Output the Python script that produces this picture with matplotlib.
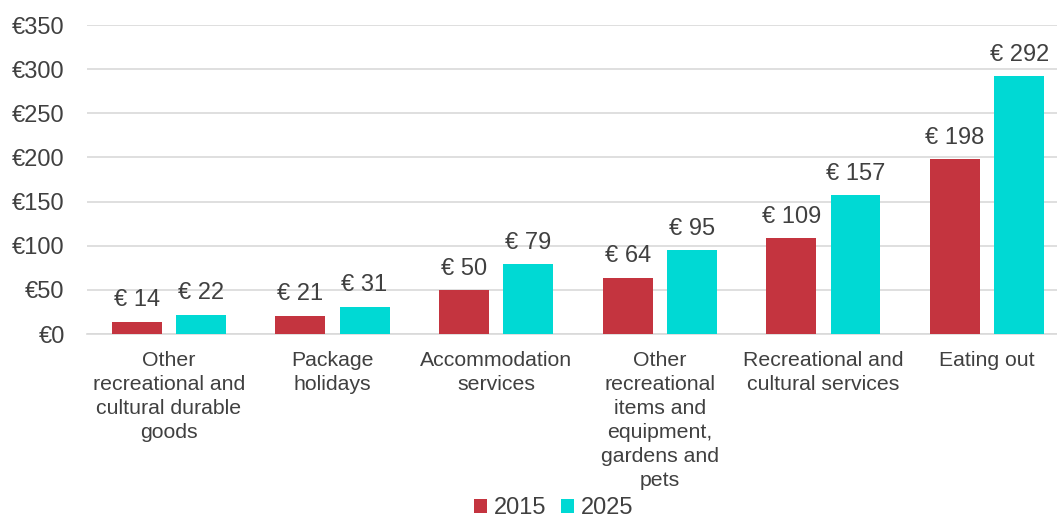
import matplotlib.pyplot as plt
import numpy as np

plt.rcParams['font.family'] = ['Liberation Sans', 'DejaVu Sans']

categories = ["Other\nrecreational and\ncultural durable\ngoods", "Package\nholidays",
              "Accommodation\nservices",
              "Other\nrecreational\nitems and\nequipment,\ngardens and\npets",
              "Recreational and\ncultural services", "Eating out"]
v2015 = [14, 21, 50, 64, 109, 198]
v2025 = [22, 31, 79, 95, 157, 292]

red = '#C4343F'
cyan = '#00D9D4'
txt = '#404040'

fig = plt.figure(figsize=(10.57, 5.22), dpi=100)
ax = fig.add_axes([0.0823, 0.360, 0.929, 0.592])

x = np.arange(len(categories))
w = 0.305
b1 = ax.bar(x - 0.196, v2015, w, color=red, label='2015', zorder=3)
b2 = ax.bar(x + 0.196, v2025, w, color=cyan, label='2025', zorder=3)

for bars, vals in [(b1, v2015), (b2, v2025)]:
    for b, v in zip(bars, vals):
        ax.annotate(f'€ {v}', (b.get_x() + b.get_width() / 2, v), xytext=(0, 11),
                    textcoords='offset points', ha='center', va='baseline',
                    fontsize=17, color=txt)

ax.set_ylim(0, 350)
ax.set_xlim(-0.5, len(categories) - 0.5)
ax.set_yticks(range(0, 351, 50))
ax.set_yticklabels([f'€{t}' for t in range(0, 351, 50)])
ax.yaxis.grid(True, color='#D9D9D9', linewidth=1.2, zorder=0)
ax.set_xticks(x)
ax.set_xticklabels(categories, fontsize=15.3, color=txt, linespacing=1.34, va='top')
ax.tick_params(axis='y', length=0, pad=16, labelsize=17, labelcolor=txt)
ax.tick_params(axis='x', length=0, pad=12)
for s in ['left', 'right', 'top']:
    ax.spines[s].set_visible(False)
ax.spines['bottom'].set_color('#D9D9D9')
ax.spines['bottom'].set_linewidth(1.2)

fig.legend(loc='lower center', bbox_to_anchor=(0.524, -0.035), ncol=2, frameon=False,
           fontsize=17, labelcolor=txt, handlelength=0.55, handleheight=0.55,
           handletextpad=0.3, columnspacing=0.6)

fig.savefig('out.png', dpi=100)
